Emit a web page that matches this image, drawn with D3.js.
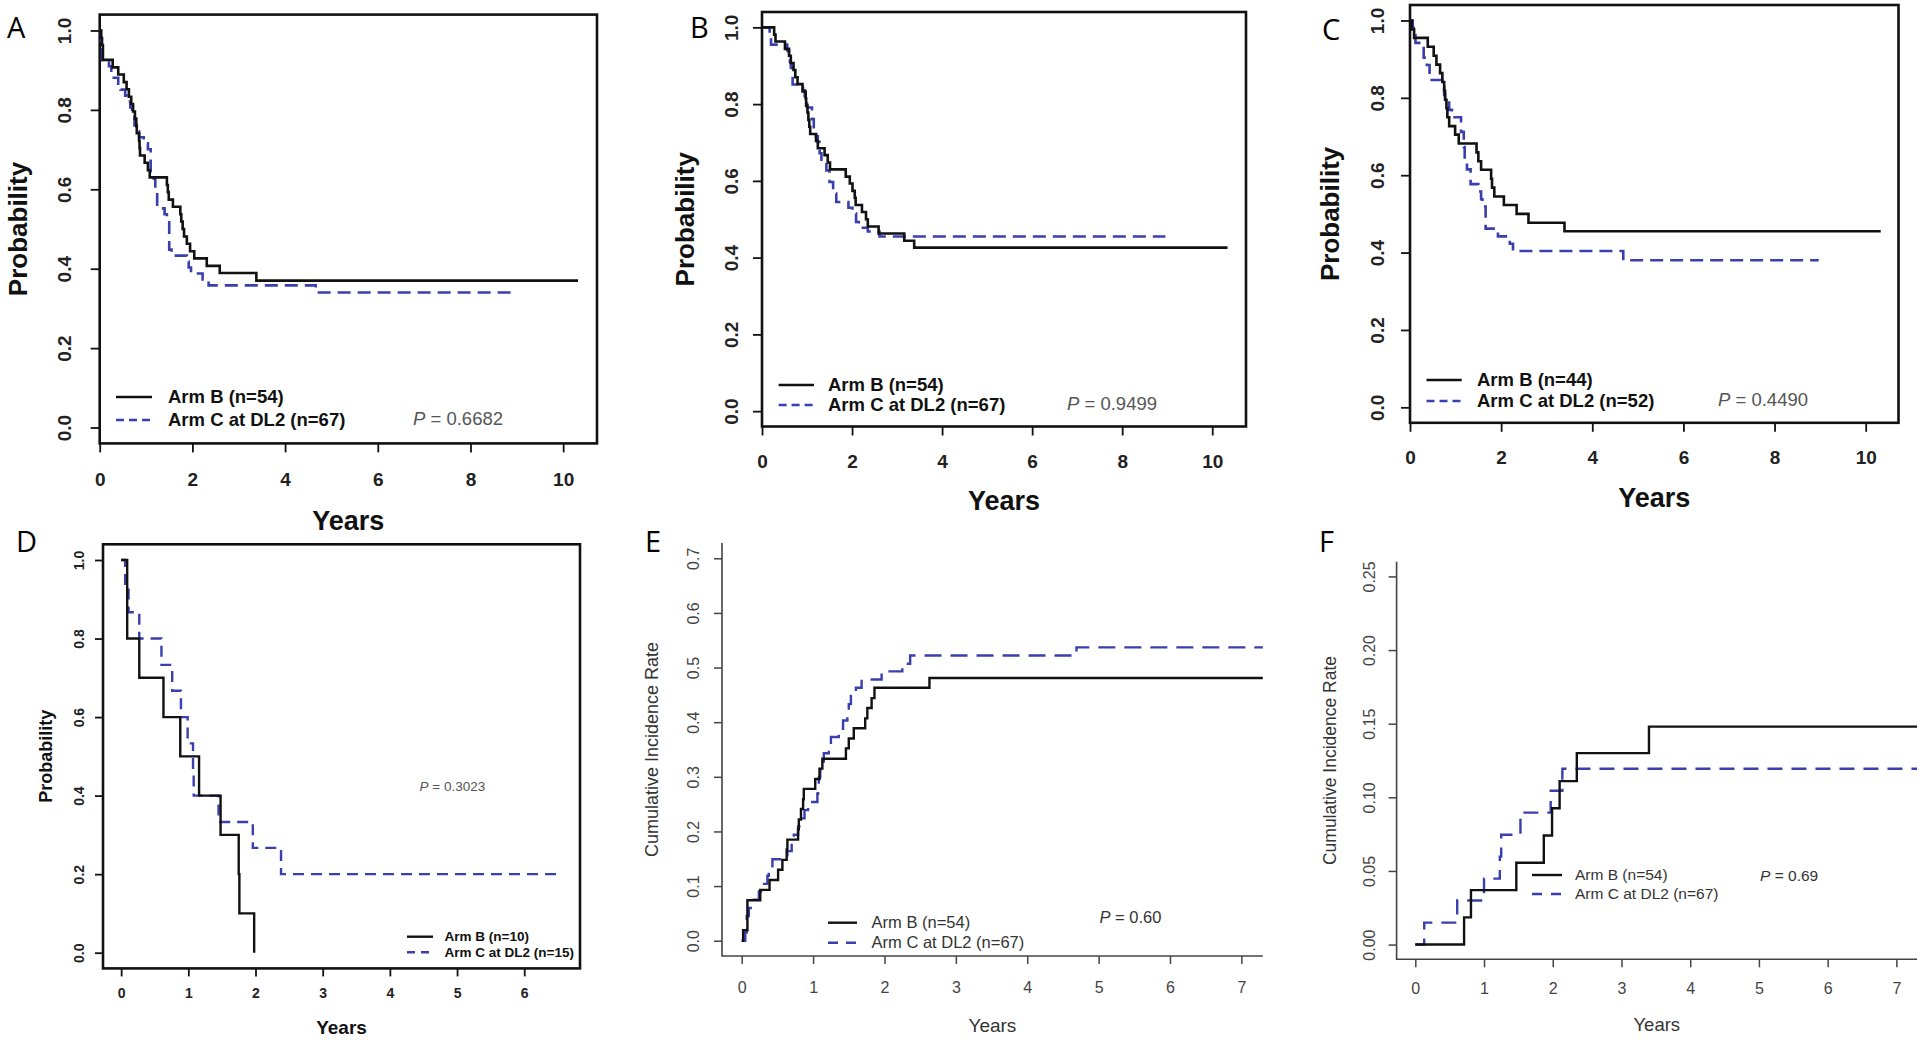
<!DOCTYPE html>
<html><head><meta charset="utf-8">
<script src="https://cdn.jsdelivr.net/npm/d3@7"></script>
<style>body{margin:0;background:#fff}svg{display:block}</style>
</head><body>
<svg id="chart" width="1920" height="1040"></svg>
<script>
// ---------------- DATA ----------------
const panelLetters = ["A", "B", "C", "D", "E", "F"];
const yTitles = ["Probability", "Probability", "Probability", "Probability", "Cumulative Incidence Rate", "Cumulative Incidence Rate"];
const xTitle = "Years";
const legendArmB = ["Arm B (n=54)", "Arm B (n=54)", "Arm B (n=44)", "Arm B (n=10)", "Arm B (n=54)", "Arm B (n=54)"];
const legendArmC = ["Arm C at DL2 (n=67)", "Arm C at DL2 (n=67)", "Arm C at DL2 (n=52)", "Arm C at DL2 (n=15)", "Arm C at DL2 (n=67)", "Arm C at DL2 (n=67)"];
const pValues = ["0.6682", "0.9499", "0.4490", "0.3023", "0.60", "0.69"];

const xTicksABC = [0, 2, 4, 6, 8, 10];
const xTicksD = [0, 1, 2, 3, 4, 5, 6];
const xTicksEF = [0, 1, 2, 3, 4, 5, 6, 7];
const yTicksProb = [0, 0.2, 0.4, 0.6, 0.8, 1.0];
const yTicksE = [0, 0.1, 0.2, 0.3, 0.4, 0.5, 0.6, 0.7];
const yTicksF = [0, 0.05, 0.10, 0.15, 0.20, 0.25];

// step curves: [years, value] (value holds from that time on)
const armB_A = [[0,1],[0.03,0.981],[0.05,0.963],[0.07,0.926],[0.28,0.907],[0.4,0.889],[0.52,0.870],[0.58,0.852],[0.63,0.833],[0.68,0.815],[0.72,0.796],[0.76,0.778],[0.79,0.759],[0.8,0.741],[0.85,0.722],[0.86,0.704],[0.87,0.685],[0.97,0.667],[1.04,0.648],[1.08,0.630],[1.45,0.611],[1.47,0.593],[1.49,0.574],[1.58,0.556],[1.74,0.537],[1.76,0.519],[1.79,0.500],[1.82,0.481],[1.88,0.463],[1.95,0.444],[2.04,0.426],[2.31,0.407],[2.59,0.389],[3.38,0.370],[10.32,0.370]];
const armC_A = [[0,1],[0.03,0.970],[0.05,0.925],[0.2,0.910],[0.25,0.881],[0.4,0.866],[0.45,0.851],[0.55,0.836],[0.6,0.821],[0.66,0.806],[0.7,0.791],[0.75,0.761],[0.8,0.746],[0.85,0.731],[0.95,0.716],[1.04,0.701],[1.1,0.642],[1.17,0.627],[1.2,0.597],[1.24,0.552],[1.4,0.537],[1.45,0.522],[1.5,0.448],[1.55,0.433],[1.88,0.418],[1.92,0.403],[1.97,0.388],[2.22,0.373],[2.35,0.358],[4.66,0.340],[8.97,0.340]];

const armB_B = [[0,1],[0.27,0.981],[0.3,0.963],[0.51,0.944],[0.6,0.926],[0.64,0.907],[0.7,0.889],[0.74,0.870],[0.79,0.852],[0.9,0.833],[0.97,0.815],[0.98,0.796],[1.01,0.778],[1.03,0.759],[1.05,0.741],[1.07,0.722],[1.2,0.704],[1.24,0.685],[1.39,0.667],[1.46,0.648],[1.51,0.630],[1.86,0.611],[1.95,0.593],[2.01,0.574],[2.06,0.556],[2.08,0.537],[2.22,0.519],[2.31,0.500],[2.35,0.481],[2.59,0.463],[3.16,0.444],[3.38,0.426],[10.34,0.426]];
const armC_B = [[0,1],[0.17,0.985],[0.2,0.955],[0.56,0.940],[0.6,0.925],[0.62,0.910],[0.64,0.895],[0.68,0.851],[0.91,0.836],[0.95,0.806],[1.0,0.791],[1.11,0.761],[1.15,0.731],[1.2,0.716],[1.24,0.701],[1.28,0.672],[1.32,0.655],[1.43,0.627],[1.5,0.597],[1.58,0.567],[1.65,0.545],[1.92,0.530],[2.01,0.515],[2.09,0.493],[2.15,0.478],[2.35,0.468],[2.61,0.455],[8.96,0.455]];

const armB_C = [[0,1],[0.04,0.977],[0.09,0.955],[0.39,0.932],[0.52,0.909],[0.58,0.886],[0.66,0.864],[0.71,0.841],[0.75,0.818],[0.77,0.795],[0.8,0.773],[0.82,0.750],[0.86,0.727],[0.99,0.705],[1.07,0.682],[1.46,0.659],[1.5,0.636],[1.56,0.614],[1.78,0.591],[1.8,0.568],[1.85,0.545],[2.06,0.523],[2.34,0.500],[2.6,0.477],[3.39,0.455],[10.33,0.455]];
const armC_C = [[0,1],[0.06,0.981],[0.08,0.962],[0.12,0.942],[0.3,0.904],[0.37,0.885],[0.43,0.846],[0.71,0.827],[0.75,0.808],[0.77,0.788],[0.86,0.769],[0.92,0.750],[1.12,0.712],[1.18,0.673],[1.2,0.635],[1.25,0.615],[1.33,0.577],[1.5,0.558],[1.56,0.538],[1.59,0.519],[1.66,0.462],[1.93,0.442],[2.19,0.423],[2.26,0.404],[4.68,0.380],[8.97,0.380]];

const armB_D = [[0,1],[0.09,0.8],[0.27,0.7],[0.63,0.6],[0.88,0.5],[1.16,0.4],[1.48,0.3],[1.75,0.2],[1.76,0.1],[1.98,0.0]];
const armC_D = [[0,1],[0.06,0.933],[0.11,0.867],[0.27,0.8],[0.6,0.733],[0.76,0.667],[0.89,0.6],[0.99,0.533],[1.07,0.467],[1.08,0.4],[1.45,0.333],[1.96,0.267],[2.38,0.2],[6.49,0.2]];

const armB_E = [[0,0],[0.02,0.019],[0.08,0.074],[0.26,0.093],[0.39,0.111],[0.51,0.130],[0.57,0.148],[0.63,0.167],[0.64,0.185],[0.79,0.204],[0.8,0.222],[0.83,0.241],[0.86,0.259],[0.87,0.278],[1.03,0.296],[1.09,0.315],[1.13,0.333],[1.46,0.352],[1.5,0.370],[1.57,0.389],[1.73,0.407],[1.76,0.426],[1.82,0.444],[1.86,0.463],[2.63,0.481],[7.3,0.481]];
const armC_E = [[0,0],[0.05,0.015],[0.07,0.045],[0.1,0.06],[0.15,0.075],[0.24,0.09],[0.27,0.104],[0.36,0.119],[0.38,0.134],[0.43,0.149],[0.64,0.164],[0.7,0.179],[0.73,0.194],[0.79,0.209],[0.84,0.224],[0.88,0.239],[0.93,0.254],[1.06,0.269],[1.07,0.284],[1.08,0.299],[1.1,0.313],[1.15,0.343],[1.22,0.358],[1.25,0.373],[1.36,0.388],[1.42,0.403],[1.48,0.418],[1.5,0.433],[1.53,0.448],[1.6,0.463],[1.68,0.478],[1.96,0.493],[2.25,0.507],[2.36,0.522],[4.69,0.537],[7.3,0.537]];

const armB_F = [[0,0],[0.71,0.0185],[0.81,0.037],[1.47,0.0556],[1.87,0.0741],[1.99,0.0926],[2.1,0.111],[2.35,0.130],[3.4,0.148],[7.3,0.148]];
const armC_F = [[0,0],[0.13,0.0149],[0.61,0.0299],[1.0,0.0448],[1.23,0.0597],[1.25,0.0746],[1.53,0.0896],[1.97,0.1045],[2.14,0.1194],[7.3,0.1194]];

// ---------------- LAYOUT ----------------
const BLUE = "#3a3fae";
const FONT = "'Liberation Sans', Arial, sans-serif";
const panels = [
  {box:{l:99.7,r:597,t:14.6,b:443.4}, xDom:[0,10.73], yDom:[-0.04,1.04], xTicks:xTicksABC, yTicks:yTicksProb, fmtX:d3.format("d"), fmtY:d3.format(".1f"),
   armB:armB_A, armC:armC_A, style:"km", tick:9, tickFont:19, yLabDist:35, xLabDist:36, titleFont:26, xTitleY:521, yTitleX:17.6,
   letter:{x:7,y:38}, leg:{x0:116,x1:152,yB:397,yC:420,tx:168,fs:18.5}, p:{x:413,y:419,fs:18.5}, lw:2.6, dash:"13,7", legDash:"8,5", box2:true},
  {box:{l:762,r:1246,t:12,b:426.5}, xDom:[0,10.75], yDom:[-0.04,1.04], xTicks:xTicksABC, yTicks:yTicksProb, fmtX:d3.format("d"), fmtY:d3.format(".1f"),
   armB:armB_B, armC:armC_B, style:"km", tick:9, tickFont:19, yLabDist:31, xLabDist:35, titleFont:26, xTitleY:501, yTitleX:685,
   letter:{x:690,y:38}, leg:{x0:778.6,x1:814,yB:385,yC:405,tx:828,fs:18.5}, p:{x:1067,y:404,fs:18.5}, lw:2.6, dash:"13,7", legDash:"8,5", box2:true},
  {box:{l:1410,r:1898.5,t:5,b:422.8}, xDom:[0,10.72], yDom:[-0.04,1.04], xTicks:xTicksABC, yTicks:yTicksProb, fmtX:d3.format("d"), fmtY:d3.format(".1f"),
   armB:armB_C, armC:armC_C, style:"km", tick:9, tickFont:19, yLabDist:33, xLabDist:35, titleFont:26, xTitleY:498, yTitleX:1329.5,
   letter:{x:1322,y:40}, leg:{x0:1426.5,x1:1461.7,yB:380,yC:401,tx:1477,fs:18.5}, p:{x:1718,y:400,fs:18.5}, lw:2.6, dash:"13,7", legDash:"8,5", box2:true},
  {box:{l:103,r:580,t:544.3,b:968.4}, xDom:[-0.27,6.83], yDom:[-0.04,1.04], xTicks:xTicksD, yTicks:yTicksProb, fmtX:d3.format("d"), fmtY:d3.format(".1f"),
   armB:armB_D, armC:armC_D, style:"km", tick:8, tickFont:14, yLabDist:24, xLabDist:25, titleFont:18, xTitleY:1027, yTitleX:45.4,
   letter:{x:16,y:552}, leg:{x0:407,x1:433,yB:936.7,yC:952.3,tx:444.6,fs:13.5}, p:{x:419.6,y:786.7,fs:13.5}, lw:2.4, dash:"11,7", legDash:"8,6", box2:true},
  {box:{l:722,r:1262.8,t:543,b:956}, xDom:[-0.276,7.3], yDom:[-0.028,0.728], xTicks:xTicksEF, yTicks:yTicksE, fmtX:d3.format("d"), fmtY:d3.format(".1f"),
   armB:armB_E, armC:armC_E, style:"ci", tick:8, tickFont:16, yLabDist:29, xLabDist:31, titleFont:18, xTitleY:1025, yTitleX:652,
   letter:{x:645,y:552}, leg:{x0:828,x1:857,yB:922.7,yC:942.7,tx:871.6,fs:16.5}, p:{x:1099.5,y:917.7,fs:16.5}, lw:2.4, dash:"17,9", legDash:"10,8", box2:false},
  {box:{l:1396.6,r:1917,t:561.7,b:959.3}, xDom:[-0.272,7.3], yDom:[-0.01,0.26], xTicks:xTicksEF, yTicks:yTicksF, fmtX:d3.format("d"), fmtY:d3.format(".2f"),
   armB:armB_F, armC:armC_F, style:"ci", tick:8, tickFont:16, yLabDist:27, xLabDist:29, titleFont:17.5, xTitleY:1025, yTitleX:1329.8,
   letter:{x:1319,y:552}, leg:{x0:1532,x1:1562,yB:875,yC:894,tx:1575,fs:15.5}, p:{x:1760,y:875.7,fs:15.5}, lw:2.4, dash:"15,9", legDash:"10,9", box2:false}
];

// ---------------- DRAW ----------------
const svg = d3.select("#chart").style("font-family", FONT);
svg.append("rect").attr("width",1920).attr("height",1040).attr("fill","#fff");

panels.forEach((P, i) => {
  const g = svg.append("g");
  const km = P.style === "km";
  const axisCol = km ? "#111" : "#444";
  const labCol = km ? "#222" : "#444";
  const weight = km ? "bold" : "normal";
  const x = d3.scaleLinear().domain(P.xDom).range([P.box.l, P.box.r]);
  const y = d3.scaleLinear().domain(P.yDom).range([P.box.b, P.box.t]);

  // x axis
  const xa = g.append("g").attr("transform", `translate(0,${P.box.b})`)
    .call(d3.axisBottom(x).tickValues(P.xTicks).tickFormat(P.fmtX).tickSize(P.tick));
  xa.select(".domain").remove();
  xa.selectAll("line").attr("stroke", axisCol).attr("stroke-width", km ? 1.8 : 1.5);
  xa.selectAll("text").attr("y", P.xLabDist).attr("dy", "0.35em")
    .attr("font-size", P.tickFont).attr("font-weight", weight).attr("fill", labCol).attr("font-family", FONT);

  // y axis
  const ya = g.append("g").attr("transform", `translate(${P.box.l},0)`)
    .call(d3.axisLeft(y).tickValues(P.yTicks).tickFormat(P.fmtY).tickSize(P.tick));
  ya.select(".domain").remove();
  ya.selectAll("line").attr("stroke", axisCol).attr("stroke-width", km ? 1.8 : 1.5);
  ya.selectAll("text").attr("x", 0).attr("y", 0).attr("dy", "0.35em")
    .attr("transform", `translate(${-P.yLabDist},0) rotate(-90)`)
    .attr("text-anchor", "middle")
    .attr("font-size", P.tickFont).attr("font-weight", weight).attr("fill", labCol).attr("font-family", FONT);

  // frame
  if (P.box2) {
    g.append("rect").attr("x", P.box.l).attr("y", P.box.t)
      .attr("width", P.box.r - P.box.l).attr("height", P.box.b - P.box.t)
      .attr("fill", "none").attr("stroke", "#111").attr("stroke-width", 2.6);
  } else {
    g.append("path").attr("d", `M${P.box.l},${P.box.t}V${P.box.b}H${P.box.r}`)
      .attr("fill", "none").attr("stroke", "#444").attr("stroke-width", 1.6);
  }

  // curves
  const line = d3.line().x(d => x(d[0])).y(d => y(d[1])).curve(d3.curveStepAfter);
  g.append("path").datum(P.armC).attr("d", line).attr("fill", "none")
    .attr("stroke", BLUE).attr("stroke-width", P.lw).attr("stroke-dasharray", P.dash);
  g.append("path").datum(P.armB).attr("d", line).attr("fill", "none")
    .attr("stroke", "#111").attr("stroke-width", P.lw);

  // titles
  g.append("text").attr("x", (P.box.l + P.box.r) / 2).attr("y", P.xTitleY).attr("dy", "0.35em")
    .attr("text-anchor", "middle").attr("font-size", P.titleFont + 1)
    .attr("font-weight", weight).attr("fill", km ? "#111" : "#333").text(xTitle);
  g.append("text").attr("transform", `translate(${P.yTitleX},${(P.box.t + P.box.b) / 2}) rotate(-90)`)
    .attr("dy", "0.35em").attr("text-anchor", "middle").attr("font-size", P.titleFont)
    .attr("font-weight", weight).attr("fill", km ? "#111" : "#333").text(yTitles[i]);

  // panel letter
  g.append("text").attr("x", P.letter.x).attr("y", P.letter.y)
    .attr("font-family", "'Open Sans', 'Liberation Sans', sans-serif").attr("font-size", 29)
    .attr("fill", "#000").text(panelLetters[i]);

  // legend
  const L = P.leg;
  g.append("line").attr("x1", L.x0).attr("x2", L.x1).attr("y1", L.yB).attr("y2", L.yB)
    .attr("stroke", "#111").attr("stroke-width", P.lw);
  g.append("line").attr("x1", L.x0).attr("x2", L.x1).attr("y1", L.yC).attr("y2", L.yC)
    .attr("stroke", BLUE).attr("stroke-width", P.lw).attr("stroke-dasharray", P.legDash);
  g.append("text").attr("x", L.tx).attr("y", L.yB).attr("dy", "0.35em").attr("font-size", L.fs)
    .attr("font-weight", weight).attr("fill", km ? "#111" : "#333").text(legendArmB[i]);
  g.append("text").attr("x", L.tx).attr("y", L.yC).attr("dy", "0.35em").attr("font-size", L.fs)
    .attr("font-weight", weight).attr("fill", km ? "#111" : "#333").text(legendArmC[i]);

  // p-value
  const pt = g.append("text").attr("x", P.p.x).attr("y", P.p.y).attr("dy", "0.35em")
    .attr("font-size", P.p.fs).attr("fill", km ? "#555" : "#333");
  pt.append("tspan").attr("font-style", "italic").text("P");
  pt.append("tspan").text(" = " + pValues[i]);
});
</script>
</body></html>
